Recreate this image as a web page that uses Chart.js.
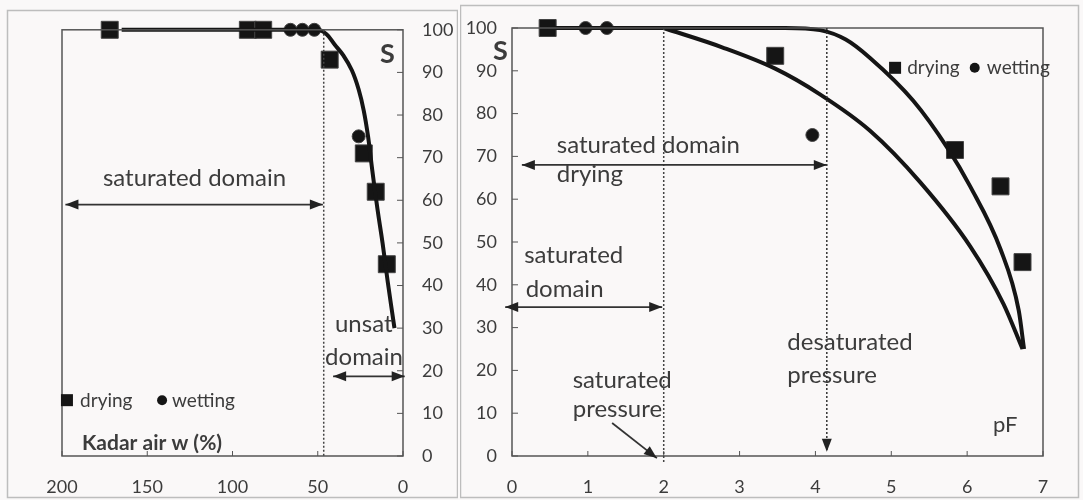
<!DOCTYPE html>
<html>
<head>
<meta charset="utf-8">
<script src="https://cdn.jsdelivr.net/npm/chart.js@4.4.1/dist/chart.umd.min.js"></script>
<style>
  html, body { margin: 0; padding: 0; background: #faf8f8; }
  #wrap { position: relative; width: 1083px; height: 500px; overflow: hidden; }
  canvas { position: absolute; top: 0; }
  #leftChart { left: 0; }
  #rightChart { left: 460px; }
</style>
</head>
<body>
<div id="wrap">
  <canvas id="leftChart" width="458" height="500"></canvas>
  <canvas id="rightChart" width="623" height="500"></canvas>
</div>
<script>
// series names (legend)
const seriesNames = ['drying', 'wetting'];

// tick labels
const wTicks = [0, 50, 100, 150, 200];
const sTicks = [0, 10, 20, 30, 40, 50, 60, 70, 80, 90, 100];
const pfTicks = [0, 1, 2, 3, 4, 5, 6, 7];

// left chart : S vs kadar air w (%)
const leftDryW = [172, 91, 82, 43, 23, 16, 9.5];
const leftDryS = [100, 100, 100, 93, 71, 62, 45];
const leftWetW = [66, 59, 52, 26];
const leftWetS = [100, 100, 100, 75];
const leftCurveW = [165, 50, 45, 40, 35, 30, 26, 23, 20.5, 18, 15, 12, 9, 5];
const leftCurveS = [100, 100, 99, 96.5, 94, 90.5, 86, 81, 75, 67, 58, 50, 41, 30];

// right chart : S vs pF
const rightDryPF = [0.47, 3.47, 5.84, 6.44, 6.73];
const rightDryS = [100, 93.5, 71.5, 63, 45.3];
const rightWetPF = [0.97, 1.25, 3.96];
const rightWetS = [100, 100, 75];
const outerPF = [0.47, 3.0, 3.6, 4.06, 4.4, 4.72, 5.29, 5.74, 6.04, 6.44, 6.68, 6.75];
const outerS = [100, 100, 100, 99.5, 97.3, 93, 83, 72, 63, 48.3, 34, 25];
const innerPF = [2.0, 2.77, 3.47, 4.06, 4.72, 5.38, 6.04, 6.48, 6.73];
const innerS = [100, 95.5, 90.5, 84.5, 76, 64, 49, 35.5, 25];

const FONT = 'Lato, "Open Sans", sans-serif';
const TEXT = '#3c3c3c';
const INK = '#151515';

function pts(xs, ys) { return xs.map((x, i) => ({ x: x, y: ys[i] })); }

// helpers -------------------------------------------------------
function arrowHead(ctx, x1, y1, x2, y2) {
  const a = Math.atan2(y2 - y1, x2 - x1);
  const len = 13, half = 5;
  ctx.beginPath();
  ctx.moveTo(x2, y2);
  ctx.lineTo(x2 - len * Math.cos(a) + half * Math.sin(a), y2 - len * Math.sin(a) - half * Math.cos(a));
  ctx.lineTo(x2 - len * Math.cos(a) - half * Math.sin(a), y2 - len * Math.sin(a) + half * Math.cos(a));
  ctx.closePath();
  ctx.fill();
}
function arrow(ctx, x1, y1, x2, y2, both, dashed) {
  ctx.save();
  ctx.strokeStyle = '#333';
  ctx.fillStyle = '#222';
  ctx.lineWidth = dashed ? 1.5 : 1.8;
  if (dashed) ctx.setLineDash([2, 2]);
  ctx.beginPath();
  ctx.moveTo(x1, y1);
  ctx.lineTo(x2, y2);
  ctx.stroke();
  ctx.setLineDash([]);
  arrowHead(ctx, x1, y1, x2, y2);
  if (both) arrowHead(ctx, x2, y2, x1, y1);
  ctx.restore();
}
function dotted(ctx, x, y1, y2) {
  ctx.save();
  ctx.strokeStyle = '#444';
  ctx.lineWidth = 1.5;
  ctx.setLineDash([2, 2]);
  ctx.beginPath();
  ctx.moveTo(x, y1);
  ctx.lineTo(x, y2);
  ctx.stroke();
  ctx.restore();
}
function label(ctx, txt, x, y, size, bold) {
  ctx.save();
  ctx.fillStyle = TEXT;
  ctx.font = (bold ? 'bold ' : '') + size + 'px ' + FONT;
  ctx.textBaseline = 'alphabetic';
  ctx.textAlign = 'left';
  ctx.fillText(txt, x, y);
  ctx.restore();
}
function legendMarks(ctx, sx, cx, y) {
  ctx.save();
  ctx.fillStyle = INK;
  ctx.fillRect(sx - 6, y - 6, 12, 12);
  ctx.beginPath();
  ctx.arc(cx, y, 5, 0, Math.PI * 2);
  ctx.fill();
  ctx.restore();
}

// plot box, inner ticks and panel frame
const framePlugin = {
  id: 'frame',
  beforeDraw(chart, args, opts) {
    const ctx = chart.ctx;
    ctx.save();
    ctx.strokeStyle = '#bdbdbd';
    ctx.lineWidth = 1.5;
    ctx.strokeRect(opts.panel[0], opts.panel[1], opts.panel[2], opts.panel[3]);
    ctx.restore();
  },
  afterDatasetsDraw(chart, args, opts) {
    const ctx = chart.ctx, a = chart.chartArea;
    const xs = chart.scales.x, ys = chart.scales.y;
    ctx.save();
    ctx.strokeStyle = '#555';
    ctx.lineWidth = 1.5;
    ctx.strokeRect(a.left, a.top, a.right - a.left, a.bottom - a.top);
    ctx.lineWidth = 1;
    ctx.beginPath();
    xs.ticks.forEach(t => {
      const px = xs.getPixelForValue(t.value);
      ctx.moveTo(px, a.bottom);
      ctx.lineTo(px, a.bottom - 5);
    });
    ys.ticks.forEach(t => {
      const py = ys.getPixelForValue(t.value);
      const edge = opts.yRight ? a.right : a.left;
      ctx.moveTo(edge, py);
      ctx.lineTo(edge + (opts.yRight ? -6 : 6), py);
    });
    ctx.stroke();
    ctx.restore();
  }
};

function axisFont() { return { family: FONT, size: 18 }; }

// ---------------- left chart ----------------
const leftNotes = {
  id: 'leftNotes',
  afterDatasetsDraw(chart) {
    const ctx = chart.ctx;
    const X = v => chart.scales.x.getPixelForValue(v);
    const Y = v => chart.scales.y.getPixelForValue(v);
    dotted(ctx, X(46.5), Y(100), Y(0));
    arrow(ctx, X(198), Y(59), X(47), Y(59), true);
    arrow(ctx, X(41), Y(18.7), X(-1), Y(18.7), true);
    label(ctx, 'saturated domain', X(176), Y(63.3), 24);
    label(ctx, 'unsat', X(39.9), Y(29), 24);
    label(ctx, 'domain', X(45.7), Y(21.3), 24);
    label(ctx, 'S', X(13.5), Y(92.3), 27, true);
    label(ctx, 'Kadar air w (%)', X(188.3), Y(1.4), 21, true);
    legendMarks(ctx, X(197.1), X(141.3), Y(13.1));
    label(ctx, seriesNames[0], X(189.4), Y(11.4), 19);
    label(ctx, seriesNames[1], X(135.5), Y(11.4), 19);
  }
};

new Chart(document.getElementById('leftChart'), {
  type: 'scatter',
  data: {
    datasets: [
      { label: 'curve', data: pts(leftCurveW, leftCurveS), showLine: true, pointRadius: 0,
        borderColor: INK, borderWidth: 4, tension: 0.4, clip: false },
      { label: seriesNames[0], data: pts(leftDryW, leftDryS), pointStyle: 'rect', pointRadius: 12,
        backgroundColor: INK, borderColor: '#444', borderWidth: 1, clip: false },
      { label: seriesNames[1], data: pts(leftWetW, leftWetS), pointStyle: 'circle', pointRadius: 6.5,
        backgroundColor: INK, borderColor: '#444', borderWidth: 1, clip: false }
    ]
  },
  options: {
    responsive: false,
    animation: false,
    layout: { padding: { left: 62, top: 28, right: 0, bottom: 0 } },
    plugins: {
      legend: { display: false },
      tooltip: { enabled: false },
      frame: { panel: [7.5, 10.5, 450, 487], yRight: true }
    },
    scales: {
      x: {
        type: 'linear', min: 0, max: 200, reverse: true,
        afterBuildTicks: s => { s.ticks = wTicks.map(v => ({ value: v })); },
        afterFit: s => { s.height = 44; },
        grid: { display: false, drawTicks: false },
        border: { display: false },
        ticks: { font: axisFont(), color: TEXT, padding: 20, maxRotation: 0 }
      },
      y: {
        type: 'linear', position: 'right', min: 0, max: 100,
        afterBuildTicks: s => { s.ticks = sTicks.map(v => ({ value: v })); },
        afterFit: s => { s.width = 55; },
        grid: { display: false, drawTicks: false },
        border: { display: false },
        ticks: { font: axisFont(), color: TEXT, padding: 19 }
      }
    }
  },
  plugins: [framePlugin, leftNotes]
});

// ---------------- right chart ----------------
const rightNotes = {
  id: 'rightNotes',
  afterDatasetsDraw(chart) {
    const ctx = chart.ctx;
    const X = v => chart.scales.x.getPixelForValue(v);
    const Y = v => chart.scales.y.getPixelForValue(v);
    dotted(ctx, X(2.0), Y(100), Y(-1.5));
    arrow(ctx, X(4.15), Y(100), X(4.15), Y(1), false, true);
    arrow(ctx, X(0.13), Y(68), X(4.15), Y(68), true);
    arrow(ctx, X(-0.09), Y(34.8), X(1.98), Y(34.8), true);
    arrow(ctx, X(1.32), Y(7.7), X(1.91), Y(-0.5), false);
    label(ctx, 'S', X(-0.25), Y(92.5), 27, true);
    label(ctx, 'saturated domain', X(0.59), Y(70.8), 24);
    label(ctx, 'drying', X(0.59), Y(64.0), 24);
    label(ctx, 'saturated', X(0.16), Y(45.1), 24);
    label(ctx, 'domain', X(0.18), Y(37.1), 24);
    label(ctx, 'saturated', X(0.80), Y(15.9), 24);
    label(ctx, 'pressure', X(0.80), Y(9.1), 24);
    label(ctx, 'desaturated', X(3.63), Y(24.8), 24);
    label(ctx, 'pressure', X(3.63), Y(17.1), 24);
    label(ctx, 'pF', X(6.34), Y(5.6), 22);
    legendMarks(ctx, X(5.05), X(6.10), Y(90.7));
    label(ctx, seriesNames[0], X(5.21), Y(89.3), 19);
    label(ctx, seriesNames[1], X(6.26), Y(89.3), 19);
  }
};

new Chart(document.getElementById('rightChart'), {
  type: 'scatter',
  data: {
    datasets: [
      { label: 'outer', data: pts(outerPF, outerS), showLine: true, pointRadius: 0,
        borderColor: INK, borderWidth: 4, cubicInterpolationMode: 'monotone', clip: false },
      { label: 'inner', data: pts(innerPF, innerS), showLine: true, pointRadius: 0,
        borderColor: INK, borderWidth: 4, cubicInterpolationMode: 'monotone', clip: false },
      { label: seriesNames[0], data: pts(rightDryPF, rightDryS), pointStyle: 'rect', pointRadius: 12,
        backgroundColor: INK, borderColor: '#444', borderWidth: 1, clip: false },
      { label: seriesNames[1], data: pts(rightWetPF, rightWetS), pointStyle: 'circle', pointRadius: 6.5,
        backgroundColor: INK, borderColor: '#444', borderWidth: 1, clip: false }
    ]
  },
  options: {
    responsive: false,
    animation: false,
    layout: { padding: { left: 0, top: 28, right: 40, bottom: 0 } },
    plugins: {
      legend: { display: false },
      tooltip: { enabled: false },
      frame: { panel: [0.5, 5.5, 618, 492], yRight: false }
    },
    scales: {
      x: {
        type: 'linear', min: 0, max: 7,
        afterBuildTicks: s => { s.ticks = pfTicks.map(v => ({ value: v })); },
        afterFit: s => { s.height = 44; },
        grid: { display: false, drawTicks: false },
        border: { display: false },
        ticks: { font: axisFont(), color: TEXT, padding: 20, maxRotation: 0 }
      },
      y: {
        type: 'linear', position: 'left', min: 0, max: 100,
        afterBuildTicks: s => { s.ticks = sTicks.map(v => ({ value: v })); },
        afterFit: s => { s.width = 52; },
        grid: { display: false, drawTicks: false },
        border: { display: false },
        ticks: { font: axisFont(), color: TEXT, padding: 15 }
      }
    }
  },
  plugins: [framePlugin, rightNotes]
});
</script>
</body>
</html>
